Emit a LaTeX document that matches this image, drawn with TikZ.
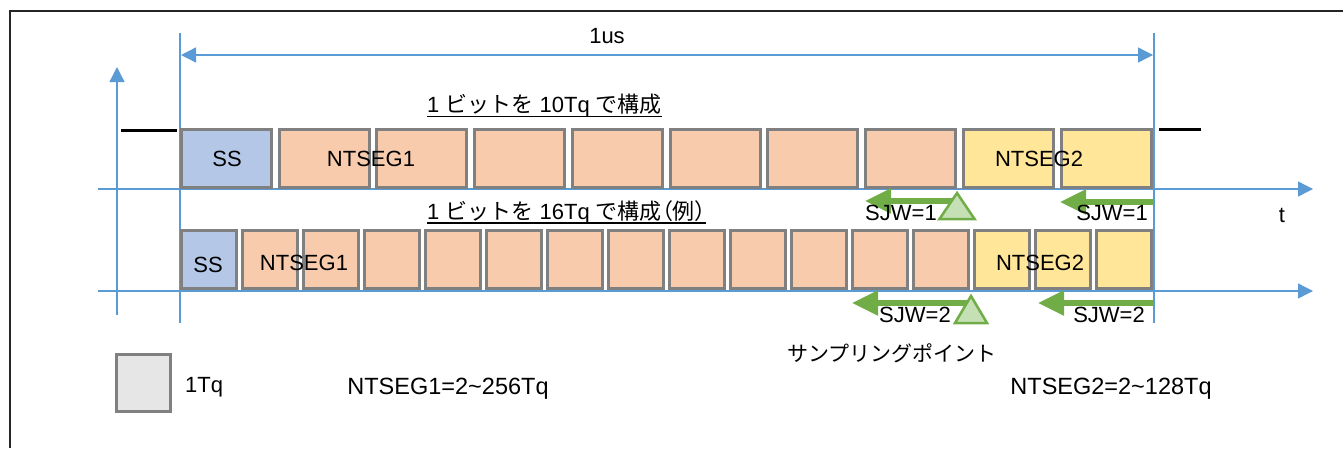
\documentclass[tikz,border=0pt]{standalone}
\usepackage{fontspec}
\setmainfont{Liberation Sans}
\newfontfamily\jp{Noto Sans CJK JP}
\newfontfamily\jpp[RawFeature=+palt]{Noto Sans CJK JP}
\usetikzlibrary{arrows.meta}
\definecolor{axisblue}{HTML}{5B9BD5}
\definecolor{ssblue}{HTML}{B4C7E7}
\definecolor{segorange}{HTML}{F8CBAD}
\definecolor{segyellow}{HTML}{FFE699}
\definecolor{boxgray}{HTML}{808080}
\definecolor{legendgray}{HTML}{E7E6E6}
\definecolor{sjwgreen}{HTML}{70AD47}
\definecolor{triggreen}{HTML}{C5E0B4}
\begin{document}
\begin{tikzpicture}[x=1pt,y=-1pt,font=\fontsize{22}{26}\selectfont,
  tq/.style={draw=boxgray, line width=3pt, minimum height=58pt, inner sep=0pt},
  widebox/.style={tq, minimum width=90pt},
  narrowbox/.style={tq, minimum width=54.5pt},
  axisline/.style={draw=axisblue, line width=1.3pt},
  axisarrow/.style={axisline, -{Triangle[length=15pt,width=15pt]}},
  dimarrow/.style={axisline, {Triangle[length=15pt,width=15pt]}-{Triangle[length=15pt,width=15pt]}},
  sjwarrow/.style={draw=sjwgreen, line width=5.5pt, -{Triangle[length=26pt,width=24pt]}},
  sample/.style={draw=sjwgreen, fill=triggreen, line width=2.5pt, line join=miter},
  stub/.style={line width=3pt},
  lbl/.style={inner sep=0pt, anchor=base},
  rangelbl/.style={lbl, font=\fontsize{23.5}{27}\selectfont}]
\useasboundingbox (0,0) rectangle (1343,448);
% frame
\draw[line width=1.5pt, draw=black!85] (1343,11) -- (10,11) -- (10,448);
% axes and guide lines
\coordinate (vax0) at (117,315); \coordinate (vax1) at (117,67);
\draw[axisarrow] (vax0) -- (vax1);
\coordinate (gl0) at (180,33); \coordinate (gl1) at (180,323);
\coordinate (gr0) at (1154,33); \coordinate (gr1) at (1154,323);
\draw[axisline] (gl0) -- (gl1);
\draw[axisline] (gr0) -- (gr1);
\coordinate (t1a) at (98,189); \coordinate (t1b) at (1313,189);
\coordinate (t2a) at (98,291); \coordinate (t2b) at (1313,291);
\draw[axisarrow] (t1a) -- (t1b);
\draw[axisarrow] (t2a) -- (t2b);
\coordinate (d0) at (181,55); \coordinate (d1) at (1153,55);
\draw[dimarrow] (d0) -- (d1);
\node[lbl] (us) at (607,43) {1us};
% level stubs
\coordinate (sl0) at (121,130); \coordinate (sl1) at (177,130);
\coordinate (sr0) at (1159,129); \coordinate (sr1) at (1201,129);
\draw[stub] (sl0) -- (sl1);
\draw[stub] (sr0) -- (sr1);
% row 1 : 10 Tq
\node[widebox, fill=ssblue] (a0) at (226.5,158) {};
\foreach \i in {1,...,7} \node[widebox, fill=segorange] (a\i) at ({226.5+97.74*\i},158) {};
\foreach \i in {8,9} \node[widebox, fill=segyellow] (a\i) at ({226.5+97.74*\i},158) {};
\node[lbl] (ss1) at (227,166) {SS};
\node[lbl] (seg1a) at (371,166) {NTSEG1};
\node[lbl] (seg2a) at (1039,166) {NTSEG2};
% row 2 : 16 Tq
\node[narrowbox, fill=ssblue] (b0) at (208.75,259.5) {};
\foreach \i in {1,...,12} \node[narrowbox, fill=segorange] (b\i) at ({208.75+61*\i},259.5) {};
\foreach \i in {13,14,15} \node[narrowbox, fill=segyellow] (b\i) at ({208.75+61*\i},259.5) {};
\node[lbl] (ss2) at (208,272) {SS};
\node[lbl] (seg1b) at (304,270) {NTSEG1};
\node[lbl] (seg2b) at (1040,270) {NTSEG2};
% titles
\node[lbl, anchor=base west] (title1) at (427,112) {1 {\jp ビットを} 10Tq {\jp で構成}};
\draw[line width=1.5pt] ([yshift=-4.5pt]title1.base west) -- ([yshift=-4.5pt]title1.base east);
\node[lbl, anchor=base west] (title2) at (427,219) {1 {\jp ビットを} 16Tq {\jp で構成}{\jpp （例）}};
\draw[line width=1.5pt] ([yshift=-4pt]title2.base west) -- ([yshift=-4pt]title2.base east);
% SJW arrows
\coordinate (s1a) at (957,201); \coordinate (s1b) at (865,201);
\coordinate (s2a) at (967,303); \coordinate (s2b) at (852,303);
\coordinate (s3a) at (1153,202); \coordinate (s3b) at (1060,202);
\coordinate (s4a) at (1153,303); \coordinate (s4b) at (1038,303);
\draw[sjwarrow] (s1a) -- (s1b);
\draw[sjwarrow] (s2a) -- (s2b);
\draw[sjwarrow] (s3a) -- (s3b);
\draw[sjwarrow] (s4a) -- (s4b);
\node[lbl, anchor=base west] (sjw1) at (865,220) {SJW=1};
\node[lbl, anchor=base west] (sjw2) at (879,322) {SJW=2};
\node[lbl, anchor=base east] (sjw3) at (1148,220) {SJW=1};
\node[lbl, anchor=base east] (sjw4) at (1145,322) {SJW=2};
% sampling points
\draw[sample] (957,193) -- (974.5,219) -- (939.5,219) -- cycle;
\draw[sample] (971,296) -- (987,323) -- (955,323) -- cycle;
\node[inner sep=0pt, font=\jp\fontsize{21}{24}\selectfont] (sp) at (892,353) {サンプリングポイント};
\node[lbl] (tlab) at (1282,222) {t};
% legend
\node[tq, fill=legendgray, minimum width=54pt, minimum height=57pt] (leg) at (143.5,383) {};
\node[lbl, anchor=base west] (legtxt) at (185,392) {1Tq};
\node[rangelbl] (rng1) at (448,394) {NTSEG1=2\textasciitilde256Tq};
\node[rangelbl] (rng2) at (1111,394) {NTSEG2=2\textasciitilde128Tq};
\end{tikzpicture}
\end{document}
